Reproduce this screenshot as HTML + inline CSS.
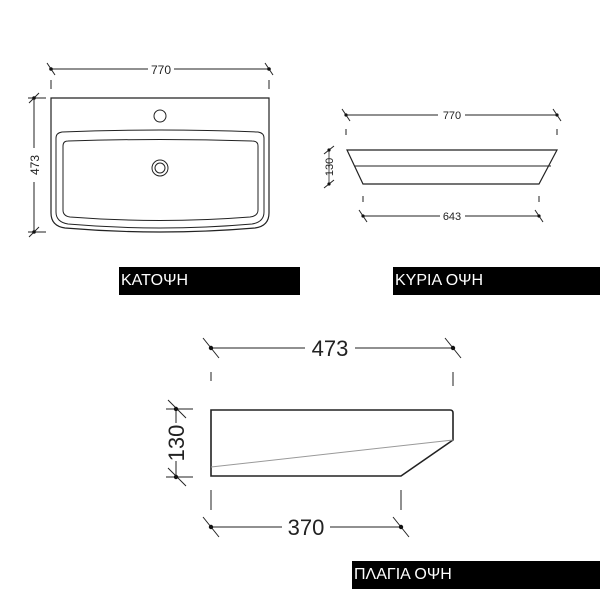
<!DOCTYPE html>
<html><head><meta charset="utf-8"><style>
html,body{margin:0;padding:0;background:#fff;width:600px;height:600px;overflow:hidden}
.lbl{position:absolute;background:#000;color:#fff;font-family:"Liberation Sans","DejaVu Sans",sans-serif;font-size:16px;line-height:28px;padding-left:2px;box-sizing:border-box}
</style></head><body>
<svg width="600" height="600" style="position:absolute;left:0;top:0" font-family="Liberation Sans, DejaVu Sans, sans-serif">
<g stroke="#222" fill="none" stroke-width="1">
<!-- TOP VIEW -->
<line x1="51" y1="69" x2="148" y2="69"/><line x1="174" y1="69" x2="269" y2="69"/>
<line x1="47" y1="63" x2="55" y2="75"/><line x1="265" y1="63" x2="273" y2="75"/>
<line x1="51" y1="80" x2="51" y2="89" /><line x1="269" y1="80" x2="269" y2="89"/>
<line x1="34" y1="98" x2="34" y2="148"/><line x1="34" y1="182" x2="34" y2="232"/>
<line x1="28" y1="98" x2="46" y2="98"/><line x1="28" y1="232" x2="46" y2="232"/>
<line x1="29" y1="103" x2="39" y2="93"/><line x1="29" y1="237" x2="39" y2="227"/>
<path d="M51 98 H269 V213 Q269 226 255 228 Q160 236 65 228 Q51 226 51 213 Z" stroke-width="1.2"/>
<path d="M56 138 Q56 133 62 132 Q160 128 258 132 Q264 133 264 138 V212 Q264 222 252 224 Q160 232 68 224 Q56 222 56 212 Z"/>
<path d="M63 146 Q63 141 68 141 Q160 138 252 141 Q258 141 258 146 V210 Q258 216 250 217 Q160 224 70 217 Q63 216 63 210 Z"/>
<circle cx="160" cy="116" r="6"/>
<circle cx="160" cy="168" r="8"/><circle cx="160" cy="168" r="5"/>
<!-- FRONT VIEW -->
<line x1="346" y1="115" x2="438" y2="115"/><line x1="465" y1="115" x2="557" y2="115"/>
<line x1="342" y1="109" x2="350" y2="121"/><line x1="553" y1="109" x2="561" y2="121"/>
<line x1="346" y1="129" x2="346" y2="135"/><line x1="557" y1="129" x2="557" y2="135"/>
<path d="M347 150 H557 L539 184 H363 Z" stroke-width="1.2"/>
<line x1="355" y1="166" x2="551" y2="166"/>
<line x1="329" y1="150" x2="329" y2="184" stroke-width="0.8"/>
<line x1="324" y1="154" x2="334" y2="146"/><line x1="324" y1="188" x2="334" y2="180"/>
<line x1="363" y1="196" x2="363" y2="202"/><line x1="539" y1="196" x2="539" y2="202"/>
<line x1="363" y1="216" x2="440" y2="216"/><line x1="465" y1="216" x2="539" y2="216"/>
<line x1="359" y1="210" x2="367" y2="222"/><line x1="535" y1="210" x2="543" y2="222"/>
<!-- SIDE VIEW -->
<line x1="211" y1="348" x2="305" y2="348"/><line x1="355" y1="348" x2="453" y2="348"/>
<line x1="203" y1="338" x2="219" y2="358"/><line x1="445" y1="338" x2="461" y2="358"/>
<line x1="211" y1="372" x2="211" y2="386" stroke-dasharray="9 6"/><line x1="453" y1="372" x2="453" y2="386"/>
<path d="M211 410 H450 Q453 410 453 413 V440 L401 476 H211 Z" stroke-width="1.6"/>
<line x1="211" y1="467" x2="453" y2="440" stroke="#999"/>
<line x1="176" y1="409" x2="176" y2="423"/><line x1="176" y1="461" x2="176" y2="477"/>
<line x1="166" y1="409" x2="193" y2="409"/><line x1="166" y1="477" x2="193" y2="477"/>
<line x1="168" y1="400" x2="186" y2="418"/><line x1="168" y1="468" x2="186" y2="486"/>
<line x1="211" y1="490" x2="211" y2="510"/><line x1="401" y1="490" x2="401" y2="510"/>
<line x1="211" y1="527" x2="282" y2="527"/><line x1="330" y1="527" x2="401" y2="527"/>
<line x1="203" y1="517" x2="219" y2="537"/><line x1="393" y1="517" x2="409" y2="537"/>
</g>
<g fill="#111">
<circle cx="51" cy="69" r="1.8"/><circle cx="269" cy="69" r="1.8"/>
<circle cx="34" cy="98" r="1.8"/><circle cx="34" cy="232" r="1.8"/>
<circle cx="346" cy="115" r="1.6"/><circle cx="557" cy="115" r="1.6"/>
<circle cx="329" cy="150" r="1.6"/><circle cx="329" cy="184" r="1.6"/>
<circle cx="363" cy="216" r="1.6"/><circle cx="539" cy="216" r="1.6"/>
<circle cx="211" cy="348" r="2.2"/><circle cx="453" cy="348" r="2.2"/>
<circle cx="176" cy="409" r="2.2"/><circle cx="176" cy="477" r="2.2"/>
<circle cx="211" cy="527" r="2.2"/><circle cx="401" cy="527" r="2.2"/>
</g>
<g fill="#222" text-anchor="middle">
<text x="161" y="74" font-size="12">770</text>
<text transform="translate(39,165) rotate(-90)" font-size="12">473</text>
<text x="452" y="119" font-size="11">770</text>
<text transform="translate(333,167) rotate(-90)" font-size="11">130</text>
<text x="452" y="220" font-size="11">643</text>
<text x="330" y="356" font-size="22">473</text>
<text transform="translate(184,443) rotate(-90)" font-size="22">130</text>
<text x="306" y="535" font-size="22">370</text>
</g>
</svg>
<div class="lbl" style="left:119px;top:267px;width:181px;height:28px">ΚΑΤΟΨΗ</div>
<div class="lbl" style="left:393px;top:267px;width:207px;height:28px">ΚΥΡΙΑ ΟΨΗ</div>
<div class="lbl" style="left:352px;top:561px;width:248px;height:28px">ΠΛΑΓΙΑ ΟΨΗ</div>
</body></html>
